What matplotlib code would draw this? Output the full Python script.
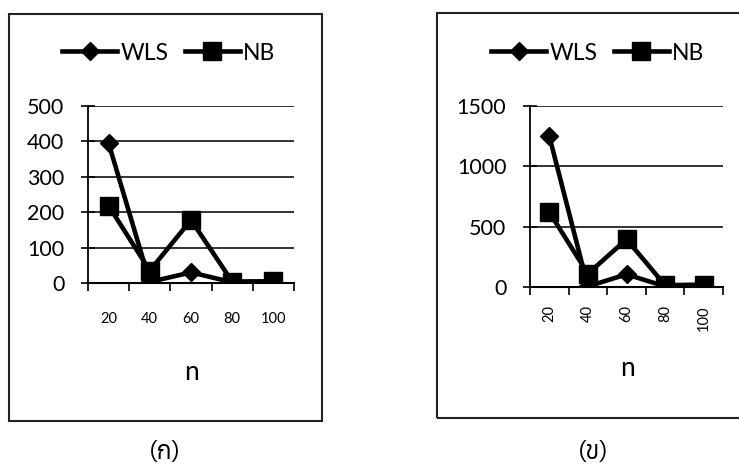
import matplotlib
matplotlib.use("Agg")
import matplotlib.pyplot as plt
from matplotlib.patches import Rectangle
import numpy as np

# data
n_labels = ["20", "40", "60", "80", "100"]
wls_a = [395, 3, 30, 2, 3]
nb_a = [218, 35, 178, 4, 5]
wls_b = [1250, 5, 105, 5, 10]
nb_b = [620, 110, 395, 15, 20]
yticks_a = [0, 100, 200, 300, 400, 500]
yticks_b = [0, 500, 1000, 1500]
captions = ["(ก)", "(ข)"]

W, H = 739, 468
plt.rcParams["font.family"] = ["Lato", "DejaVu Sans"]

fig = plt.figure(figsize=(W / 100, H / 100), dpi=100)


def px_rect(x0, y0, x1, y1):
    return [x0 / W, 1 - y1 / H, (x1 - x0) / W, (y1 - y0) / H]


def panel(rect, wls, nb, yticks, rotate):
    ax = fig.add_axes(rect)
    x = np.arange(len(n_labels))
    ax.plot(x, wls, color="black", lw=3.3, marker="D", ms=9, label="WLS", zorder=3)
    ax.plot(x, nb, color="black", lw=3.3, marker="s", ms=13, label="NB", zorder=4)
    ax.set_xlim(-0.5, len(n_labels) - 0.5)
    ax.set_ylim(yticks[0], yticks[-1])
    ax.set_yticks(yticks)
    ax.set_xticks(x)
    ax.set_xticklabels(n_labels, rotation=90 if rotate else 0)
    ax.set_xticks(np.arange(len(n_labels) + 1) - 0.5, minor=True)
    ax.tick_params(axis="x", which="major", length=0, labelsize=10.5, pad=21 if not rotate else 13)
    ax.tick_params(axis="x", which="minor", length=6, width=1.2, direction="out")
    ax.tick_params(axis="y", length=10, width=1.2, direction="inout", labelsize=15.5, pad=12)
    ax.yaxis.grid(True, color="#111111", lw=1.2)
    ax.set_axisbelow(True)
    for s in ["top", "right"]:
        ax.spines[s].set_visible(False)
    ax.spines["left"].set_linewidth(1.3)
    ax.spines["bottom"].set_linewidth(1.5)
    ax.patch.set_alpha(0)
    return ax


ax_a = panel(px_rect(88, 106, 294, 283), wls_a, nb_a, yticks_a, False)
ax_b = panel(px_rect(530, 106, 723, 287), wls_b, nb_b, yticks_b, True)

for ax, cx in [(ax_a, 169), (ax_b, 598)]:
    ax.legend(loc="center", bbox_to_anchor=(cx / W, 1 - 53 / H), bbox_transform=fig.transFigure,
              ncol=2, frameon=False, fontsize=16.5, handlelength=2.4, handletextpad=0.15,
              columnspacing=0.7, borderpad=0)

fig.text(191 / W, 1 - 372 / H, "n", ha="center", va="center", fontsize=19)
fig.text(627 / W, 1 - 368 / H, "n", ha="center", va="center", fontsize=19)

# panel frames
fig.patches.append(Rectangle((9 / W, 1 - 421 / H), 313 / W, 407 / H, transform=fig.transFigure,
                             fill=False, ec="#222222", lw=1.5))
fig.patches.append(Rectangle((437 / W, 1 - 418 / H), 320 / W, 405 / H, transform=fig.transFigure,
                             fill=False, ec="#222222", lw=1.5))

fig.text(165 / W, 1 - 453 / H, captions[0], ha="center", va="center", fontsize=18,
         family=["Anuphan", "DejaVu Sans"])
fig.text(593 / W, 1 - 452 / H, captions[1], ha="center", va="center", fontsize=18,
         family=["Anuphan", "DejaVu Sans"])

fig.savefig("out.png", dpi=100)
